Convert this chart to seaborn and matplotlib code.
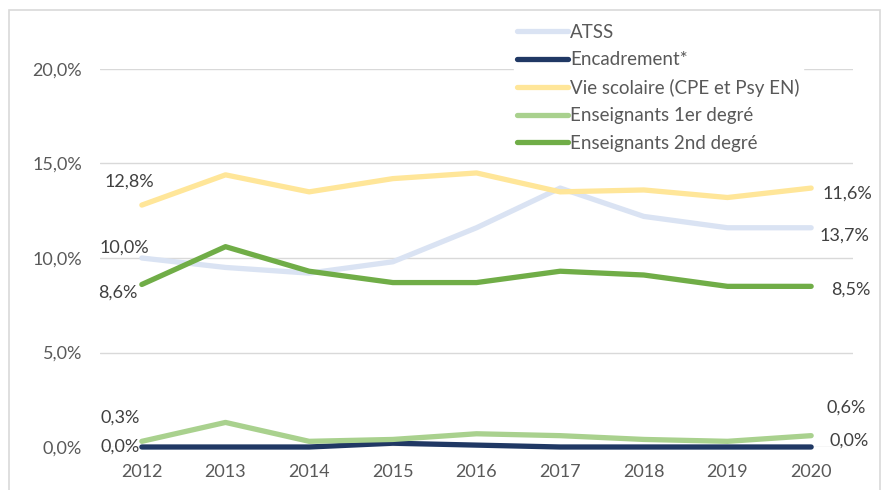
import numpy as np
import pandas as pd
import seaborn as sns
import matplotlib.pyplot as plt
from matplotlib.patches import Rectangle

years = [2012, 2013, 2014, 2015, 2016, 2017, 2018, 2019, 2020]
atss = [10.0, 9.5, 9.2, 9.8, 11.6, 13.7, 12.2, 11.6, 11.6]
encadrement = [0.0, 0.0, 0.0, 0.2, 0.1, 0.0, 0.0, 0.0, 0.0]
vie_scolaire = [12.8, 14.4, 13.5, 14.2, 14.5, 13.5, 13.6, 13.2, 13.7]
ens_1er = [0.3, 1.3, 0.3, 0.4, 0.7, 0.6, 0.4, 0.3, 0.6]
ens_2nd = [8.6, 10.6, 9.3, 8.7, 8.7, 9.3, 9.1, 8.5, 8.5]

series_names = ["ATSS", "Encadrement*", "Vie scolaire (CPE et Psy EN)",
                "Enseignants 1er degré", "Enseignants 2nd degré"]
colors = ["#dae3f3", "#203864", "#ffe699", "#a9d18e", "#70ad47"]

# labels as printed on the original (start / end of each series)
start_labels = ["10,0%", "0,0%", "12,8%", "0,3%", "8,6%"]
end_labels = ["13,7%", "0,0%", "11,6%", "0,6%", "8,5%"]
start_offsets = [(-18, 10), (-22, 0), (-13, 23), (-22, 24), (-24, -8)]
end_offsets = [(33, -8), (38, 6), (36, -6), (35, 28), (40, -3)]

all_values = [atss, encadrement, vie_scolaire, ens_1er, ens_2nd]
df = pd.DataFrame({
    "annee": np.tile(years, len(series_names)),
    "serie": np.repeat(series_names, len(years)),
    "valeur": np.concatenate(all_values),
})
df["pos"] = df["annee"] - years[0]

sns.set_style("white")
plt.rcParams["font.family"] = ["Lato", "DejaVu Sans"]
grey = "#595959"
fs = 13

fig = plt.figure(figsize=(8.84, 4.9), dpi=100)
ax = fig.add_axes([100 / 884, 1 - 447 / 490, 753 / 884, 378 / 490])

sns.lineplot(data=df, x="pos", y="valeur", hue="serie", hue_order=series_names,
             palette=colors, linewidth=3.8, ax=ax, legend=True,
             solid_capstyle="round", clip_on=False)

ax.set_xlim(-0.5, len(years) - 0.5)
ax.set_ylim(0, 20)
ax.set_xticks(range(len(years)))
ax.set_xticklabels([str(y) for y in years])
ax.set_yticks([0, 5, 10, 15, 20])
ax.set_yticklabels(["0,0%", "5,0%", "10,0%", "15,0%", "20,0%"])
ax.tick_params(axis="both", length=0, labelsize=fs, colors=grey)
ax.tick_params(axis="y", pad=13)
ax.tick_params(axis="x", pad=12)
ax.set_xlabel("")
ax.set_ylabel("")
ax.grid(axis="y", color="#d9d9d9", linewidth=1)
ax.set_axisbelow(True)
for s in ax.spines.values():
    s.set_visible(False)

for i, vals in enumerate(all_values):
    ax.annotate(start_labels[i], (0, vals[0]), xytext=start_offsets[i],
                textcoords="offset pixels", ha="center", va="center",
                fontsize=fs, color="#404040")
    ax.annotate(end_labels[i], (len(years) - 1, vals[-1]), xytext=end_offsets[i],
                textcoords="offset pixels", ha="center", va="center",
                fontsize=fs, color="#404040")

leg = ax.legend(loc="upper left", bbox_to_anchor=(514 / 884, 1 - 21 / 490),
                bbox_transform=fig.transFigure, frameon=True, fontsize=13.5,
                handlelength=2.75, handletextpad=0.1, labelspacing=0.56,
                borderpad=0.15, borderaxespad=0, fancybox=False)
leg.get_frame().set_edgecolor("white")
leg.get_frame().set_facecolor("white")
leg.get_frame().set_alpha(1)
for t in leg.get_texts():
    t.set_color(grey)
for h in leg.legend_handles:
    h.set_linewidth(3.8)
    h.set_solid_capstyle("round")

fig.patches.append(Rectangle((9 / 884, -0.01), 871 / 884, 1 - 10 / 490 + 0.01,
                             transform=fig.transFigure, fill=False,
                             edgecolor="#d9d9d9", linewidth=1.2))

fig.savefig("out.png", dpi=100)
